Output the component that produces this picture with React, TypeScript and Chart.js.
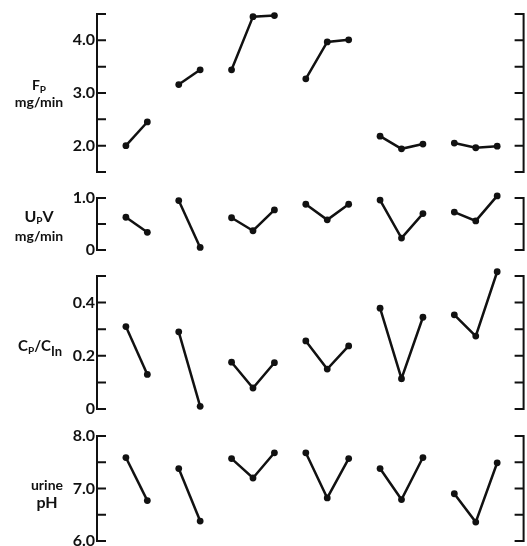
import React, { useEffect, useRef } from "react";
import { Chart, registerables } from "chart.js";

Chart.register(...registerables);

// ---------------- data (one inner array per experiment, readings in order) ----------------
const fpValues: number[][] = [
  [2.0, 2.45],
  [3.16, 3.44],
  [3.44, 4.45, 4.47],
  [3.27, 3.97, 4.01],
  [2.18, 1.94, 2.03],
  [2.05, 1.96, 1.99],
];
const upvValues: number[][] = [
  [0.63, 0.34],
  [0.95, 0.05],
  [0.62, 0.37, 0.77],
  [0.88, 0.58, 0.88],
  [0.96, 0.23, 0.7],
  [0.73, 0.56, 1.04],
];
const cpCinValues: number[][] = [
  [0.31, 0.13],
  [0.29, 0.01],
  [0.176, 0.079, 0.174],
  [0.256, 0.15, 0.237],
  [0.379, 0.114, 0.345],
  [0.354, 0.274, 0.516],
];
const phValues: number[][] = [
  [7.59, 6.77],
  [7.38, 6.38],
  [7.57, 7.2, 7.68],
  [7.68, 6.82, 7.57],
  [7.38, 6.79, 7.59],
  [6.9, 6.36, 7.49],
];

const fpTicks = [2.0, 3.0, 4.0];
const fpTickLabels = ["2.0", "3.0", "4.0"];
const upvTicks = [0, 1.0];
const upvTickLabels = ["0", "1.0"];
const cpCinTicks = [0, 0.2, 0.4];
const cpCinTickLabels = ["0", "0.2", "0.4"];
const phTicks = [6.0, 7.0, 8.0];
const phTickLabels = ["6.0", "7.0", "8.0"];

// ---------------- layout / style ----------------
const W = 527;
const H = 546;
const PAD = 16;
const EXTRA = 8; // px of plot room beyond each axis bracket, so edge points are not culled
const AXIS_LEFT = 97;
const RIGHT_PAD = 2;
const TICK_LEN = 9;
const GAP = 1.465; // spacing between experiments, in reading steps
const X_MIN = -1.349;
const X_MAX = 18.558;
const INK = "#111";
const FONT = "Lato, 'DejaVu Sans', sans-serif";

function groupStarts(groups: number[][]): number[] {
  const s: number[] = [];
  let cur = 0;
  groups.forEach((g) => {
    s.push(cur);
    cur += g.length - 1 + GAP;
  });
  return s;
}

type PanelCfg = {
  groups: number[][];
  min: number;
  max: number;
  step: number;
  ticks: number[];
  labels: string[];
  top: number;
  bottom: number;
};

const panels: PanelCfg[] = [
  { groups: fpValues, min: 1.5, max: 4.5, step: 0.5, ticks: fpTicks, labels: fpTickLabels, top: 14, bottom: 172 },
  { groups: upvValues, min: 0, max: 1.0, step: 0.5, ticks: upvTicks, labels: upvTickLabels, top: 198, bottom: 250 },
  { groups: cpCinValues, min: 0, max: 0.5, step: 0.1, ticks: cpCinTicks, labels: cpCinTickLabels, top: 276, bottom: 409 },
  { groups: phValues, min: 6.0, max: 8.0, step: 0.5, ticks: phTicks, labels: phTickLabels, top: 436, bottom: 541 },
];

function makeBracketPlugin(cfg: PanelCfg) {
  return {
    id: "bracket",
    afterDraw(chart: any) {
      const { ctx, chartArea } = chart;
      const y = chart.scales.y;
      const top = y.getPixelForValue(cfg.max);
      const bottom = y.getPixelForValue(cfg.min);
      const left = chartArea.left;
      const right = chartArea.right;
      ctx.save();
      ctx.strokeStyle = INK;
      ctx.lineWidth = 2;
      ctx.lineCap = "butt";
      ctx.beginPath();
      ctx.moveTo(left, top - 1);
      ctx.lineTo(left, bottom + 1);
      ctx.moveTo(right, top - 1);
      ctx.lineTo(right, bottom + 1);
      y.ticks.forEach((t: any) => {
        const py = y.getPixelForValue(t.value);
        ctx.moveTo(left, py);
        ctx.lineTo(left + TICK_LEN, py);
        ctx.moveTo(right, py);
        ctx.lineTo(right - TICK_LEN, py);
      });
      ctx.stroke();
      ctx.restore();
    },
  };
}

function Panel({ cfg }: { cfg: PanelCfg }) {
  const ref = useRef<HTMLCanvasElement>(null);
  useEffect(() => {
    if (!ref.current) return;
    const starts = groupStarts(cfg.groups);
    const pxPerUnit = (cfg.bottom - cfg.top) / (cfg.max - cfg.min);
    const ext = EXTRA / pxPerUnit;
    const datasets = cfg.groups.map((g, gi) => ({
      data: g.map((v, i) => ({ x: starts[gi] + i, y: v })),
      borderColor: INK,
      backgroundColor: INK,
      borderWidth: 2.5,
      pointRadius: 3.4,
      pointHoverRadius: 3.4,
      pointBorderWidth: 0,
      tension: 0,
      clip: false as any,
    }));
    const chart = new Chart(ref.current, {
      type: "line",
      data: { datasets },
      options: {
        animation: false,
        responsive: true,
        maintainAspectRatio: false,
        events: [],
        layout: { padding: { top: PAD, bottom: PAD, left: 0, right: RIGHT_PAD } },
        plugins: { legend: { display: false }, tooltip: { enabled: false } },
        scales: {
          x: { type: "linear", display: false, min: X_MIN, max: X_MAX },
          y: {
            type: "linear",
            position: "left",
            min: cfg.min - ext,
            max: cfg.max + ext,
            grid: { display: false, drawTicks: false },
            border: { display: false },
            afterFit: (s: any) => {
              s.width = AXIS_LEFT;
            },
            afterBuildTicks: (s: any) => {
              const n = Math.round((cfg.max - cfg.min) / cfg.step);
              const arr: { value: number }[] = [];
              for (let k = 0; k <= n; k++) arr.push({ value: +(cfg.min + k * cfg.step).toFixed(6) });
              s.ticks = arr;
            },
            ticks: {
              autoSkip: false,
              padding: 2,
              color: INK,
              font: { family: FONT, size: 16, weight: "bold" },
              callback: (v: any) => {
                const i = cfg.ticks.findIndex((t) => Math.abs(t - Number(v)) < 1e-6);
                return i >= 0 ? cfg.labels[i] : "";
              },
            },
          },
        },
      },
      plugins: [makeBracketPlugin(cfg)],
    } as any);
    return () => chart.destroy();
  }, [cfg]);
  const h = cfg.bottom - cfg.top + 2 * (PAD + EXTRA);
  return (
    <div style={{ position: "absolute", left: 0, top: cfg.top - PAD - EXTRA, width: W, height: h }}>
      <canvas ref={ref} />
    </div>
  );
}

const labelBase: React.CSSProperties = {
  position: "absolute",
  fontFamily: FONT,
  fontWeight: 700,
  color: INK,
  textAlign: "center",
  whiteSpace: "nowrap",
};

export default function App() {
  return (
    <div style={{ position: "fixed", left: 0, top: 0, width: W, height: H, background: "#fff", overflow: "hidden" }}>
      {panels.map((p, i) => (
        <Panel key={i} cfg={p} />
      ))}
      {/* F_P mg/min */}
      <div style={{ ...labelBase, left: 7, width: 64, top: 77, fontSize: 14, lineHeight: "15px" }}>
        <div>
          F<span style={{ fontSize: 10, position: "relative", top: 3 }}>P</span>
        </div>
        <div>mg/min</div>
      </div>
      {/* U_P V mg/min */}
      <div style={{ ...labelBase, left: 7, width: 64, top: 207, fontSize: 14, lineHeight: "18px" }}>
        <div style={{ fontSize: 16 }}>
          U<span style={{ fontSize: 10, position: "relative", top: 2 }}>P</span>V
        </div>
        <div>mg/min</div>
      </div>
      {/* C_P / C_In */}
      <div style={{ ...labelBase, left: 8, width: 64, top: 336, fontSize: 15, lineHeight: "18px" }}>
        C<span style={{ fontSize: 10, position: "relative", top: 3 }}>P</span>/C
        <span style={{ fontSize: 13, position: "relative", top: 5 }}>In</span>
      </div>
      {/* urine pH */}
      <div style={{ ...labelBase, left: 15, width: 64, top: 476, fontSize: 14, lineHeight: "17px" }}>
        <div>urine</div>
        <div style={{ fontSize: 16 }}>pH</div>
      </div>
    </div>
  );
}
